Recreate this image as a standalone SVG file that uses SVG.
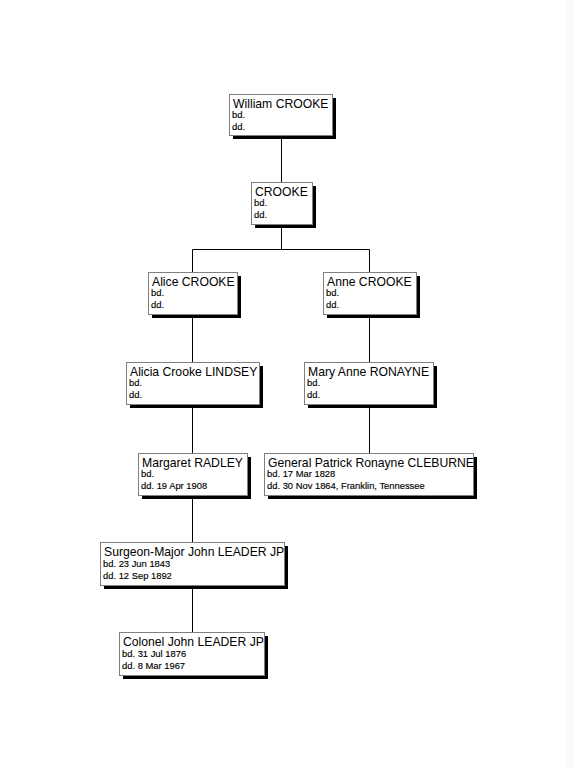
<svg xmlns="http://www.w3.org/2000/svg" width="575" height="768" viewBox="0 0 575 768">
<style>
.sh{fill:#000}
.bx{fill:#fff;stroke:#808080;stroke-width:1}
.nm{font-family:"Liberation Sans",Arial,sans-serif;font-size:12.2px;fill:#000}
.dt{font-family:"Liberation Sans",Arial,sans-serif;font-size:9.4px;fill:#000;stroke:#000;stroke-width:0.15}
.cn{stroke:#000;stroke-width:1;fill:none}
</style>
<rect x="0" y="0" width="575" height="768" fill="#fff"/>
<rect x="567" y="0" width="8" height="768" fill="#fafafc"/>
<g id="connectors">
<path class="cn" d="M281.5 135V183"/>
<path class="cn" d="M281.5 224V249.5M192.5 249.5H369.5M192.5 249.5V273M369.5 249.5V273"/>
<path class="cn" d="M192.5 315V363"/>
<path class="cn" d="M369.5 315V363"/>
<path class="cn" d="M192.5 405V453"/>
<path class="cn" d="M369.5 405V454"/>
<path class="cn" d="M192.5 495V543"/>
<path class="cn" d="M192.5 585V633"/>
</g>
<g id="n1">
<rect class="sh" x="233" y="98" width="103" height="41"/>
<rect class="bx" x="229.5" y="94.5" width="103" height="41"/>
<text class="nm" x="233" y="107.5">William CROOKE</text>
<text class="dt" x="232" y="118">bd.</text>
<text class="dt" x="232" y="130">dd.</text>
</g>
<g id="n2">
<rect class="sh" x="255" y="186" width="61" height="42"/>
<rect class="bx" x="251.5" y="182.5" width="61" height="42"/>
<text class="nm" x="255" y="195.5">CROOKE</text>
<text class="dt" x="254" y="206">bd.</text>
<text class="dt" x="254" y="218">dd.</text>
</g>
<g id="n3">
<rect class="sh" x="152" y="276" width="89" height="42"/>
<rect class="bx" x="148.5" y="272.5" width="89" height="42"/>
<text class="nm" x="152" y="285.5">Alice CROOKE</text>
<text class="dt" x="151" y="296">bd.</text>
<text class="dt" x="151" y="308">dd.</text>
</g>
<g id="n4">
<rect class="sh" x="327" y="276" width="93" height="42"/>
<rect class="bx" x="323.5" y="272.5" width="93" height="42"/>
<text class="nm" x="327" y="285.5">Anne CROOKE</text>
<text class="dt" x="326" y="296">bd.</text>
<text class="dt" x="326" y="308">dd.</text>
</g>
<g id="n5">
<rect class="sh" x="130" y="366" width="133" height="42"/>
<rect class="bx" x="126.5" y="362.5" width="133" height="42"/>
<text class="nm" x="130" y="375.5">Alicia Crooke LINDSEY</text>
<text class="dt" x="129" y="386">bd.</text>
<text class="dt" x="129" y="398">dd.</text>
</g>
<g id="n6">
<rect class="sh" x="308" y="366" width="129" height="42"/>
<rect class="bx" x="304.5" y="362.5" width="129" height="42"/>
<text class="nm" x="308" y="375.5">Mary Anne RONAYNE</text>
<text class="dt" x="307" y="386">bd.</text>
<text class="dt" x="307" y="398">dd.</text>
</g>
<g id="n7">
<rect class="sh" x="142" y="457" width="109" height="42"/>
<rect class="bx" x="138.5" y="453.5" width="109" height="42"/>
<text class="nm" x="142" y="466.5">Margaret RADLEY</text>
<text class="dt" x="141" y="477">bd.</text>
<text class="dt" x="141" y="489">dd. 19 Apr 1908</text>
</g>
<g id="n8">
<rect class="sh" x="268" y="457" width="209" height="42"/>
<rect class="bx" x="264.5" y="453.5" width="209" height="42"/>
<text class="nm" x="268" y="466.5">General Patrick Ronayne CLEBURNE</text>
<text class="dt" x="267" y="477">bd. 17 Mar 1828</text>
<text class="dt" x="267" y="489">dd. 30 Nov 1864, Franklin, Tennessee</text>
</g>
<g id="n9">
<rect class="sh" x="104" y="546" width="184" height="43"/>
<rect class="bx" x="100.5" y="542.5" width="184" height="43"/>
<text class="nm" x="104" y="556">Surgeon-Major John LEADER JP</text>
<text class="dt" x="103" y="567">bd. 23 Jun 1843</text>
<text class="dt" x="103" y="579">dd. 12 Sep 1892</text>
</g>
<g id="n10">
<rect class="sh" x="123" y="636" width="145" height="43"/>
<rect class="bx" x="119.5" y="632.5" width="145" height="43"/>
<text class="nm" x="123" y="646">Colonel John LEADER JP</text>
<text class="dt" x="122" y="657">bd. 31 Jul 1876</text>
<text class="dt" x="122" y="669">dd. 8 Mar 1967</text>
</g>
</svg>
